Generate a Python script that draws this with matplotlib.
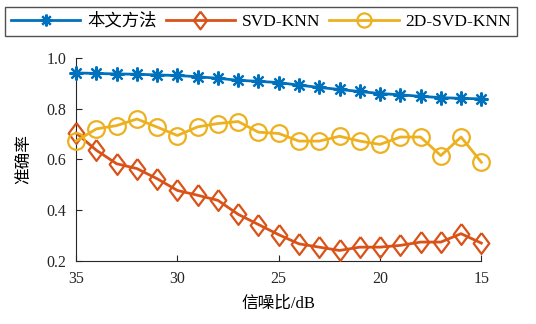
import matplotlib
matplotlib.use("Agg")
import matplotlib.pyplot as plt

plt.rcParams['font.family'] = ['Liberation Serif', 'Noto Sans CJK SC']

snr = [35, 34, 33, 32, 31, 30, 29, 28, 27, 26, 25, 24, 23, 22, 21, 20, 19, 18, 17, 16, 15]

ours = [0.940, 0.938, 0.936, 0.935, 0.932, 0.930, 0.925, 0.919, 0.911, 0.907, 0.902,
        0.892, 0.883, 0.875, 0.867, 0.859, 0.854, 0.848, 0.843, 0.840, 0.838]
svd_knn = [0.704, 0.636, 0.583, 0.564, 0.524, 0.478, 0.459, 0.439, 0.384, 0.344, 0.304,
           0.268, 0.255, 0.242, 0.255, 0.255, 0.262, 0.275, 0.275, 0.308, 0.271]
svd2d_knn = [0.672, 0.720, 0.733, 0.759, 0.727, 0.694, 0.728, 0.741, 0.749, 0.707, 0.702,
             0.672, 0.672, 0.691, 0.672, 0.659, 0.688, 0.688, 0.615, 0.688, 0.589]

labels = ['本文方法', 'SVD-KNN', '2D-SVD-KNN']
colors = ['#0072BD', '#D95319', '#EDB120']

# MATLAB-style diamond, a bit taller than wide
diamond = [(0, 1), (0.75, 0), (0, -1), (-0.75, 0), (0, 1)]

fig = plt.figure(figsize=(5.36, 3.24), dpi=100)
ax = fig.add_axes([0.142, 0.194, 0.756, 0.628])

ax.plot(snr, ours, color=colors[0], lw=2, marker=(8, 2, 0), ms=10, mew=1.6,
        label=labels[0], clip_on=False, zorder=3)
ax.plot(snr, svd_knn, color=colors[1], lw=2, marker=diamond, ms=15, mew=1.6,
        mfc='none', label=labels[1], clip_on=False, zorder=3)
ax.plot(snr, svd2d_knn, color=colors[2], lw=2, marker='o', ms=12, mew=1.6,
        mfc='none', label=labels[2], clip_on=False, zorder=3)

ax.set_xlim(35, 15)
ax.set_ylim(0.2, 1.0)
ax.set_xticks([35, 30, 25, 20, 15])
ax.set_yticks([0.2, 0.4, 0.6, 0.8, 1.0])
ax.set_yticklabels(['0.2', '0.4', '0.6', '0.8', '1.0'])
ax.tick_params(direction='in', length=4, width=0.8, labelsize=11.5,
               colors='#262626', pad=7)
for side in ['top', 'right']:
    ax.spines[side].set_visible(False)
for side in ['left', 'bottom']:
    ax.spines[side].set_color('#262626')
    ax.spines[side].set_linewidth(0.8)

ax.set_xlabel('信噪比/dB', fontsize=12, labelpad=6)
ax.set_ylabel('准确率', fontsize=12, labelpad=10)

fig.legend(loc='upper center', bbox_to_anchor=(0.487, 1.005), ncol=3,
           fontsize=12.5, frameon=True, fancybox=False, edgecolor='#262626',
           handlelength=4.0, columnspacing=0.5, handletextpad=0.4,
           borderpad=0.35, markerscale=0.85)

fig.savefig('out.png', dpi=100)
